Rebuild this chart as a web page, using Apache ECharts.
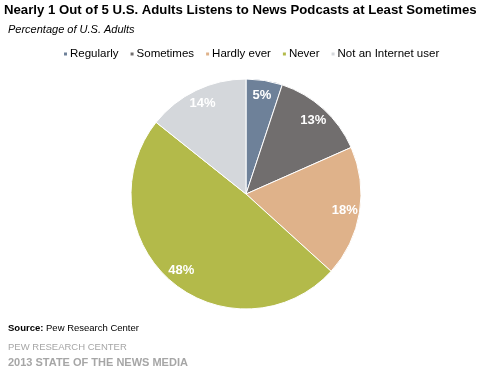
<!DOCTYPE html>
<html><head><meta charset="utf-8">
<script src="https://cdn.jsdelivr.net/npm/echarts@6/dist/echarts.min.js"></script>
<style>html,body{margin:0;padding:0;background:#fff}#c{width:481px;height:369px}</style>
</head><body><div id="c"></div>
<script>
var categories = ['Regularly', 'Sometimes', 'Hardly ever', 'Never', 'Not an Internet user'];
var values = [5, 13, 18, 48, 14];
var colors = ['#6E8199', '#716E6E', '#DFB28A', '#B3BA4A', '#D4D7DB'];

var data = categories.map(function (c, i) { return { name: c, value: values[i], itemStyle: { color: colors[i] } }; });
var labelData = categories.map(function (c, i) { return { name: c, value: values[i] }; });
var F = 'Liberation Sans, Arial, sans-serif';
var chart = echarts.init(document.getElementById('c'));
chart.setOption({
  animation: false,
  title: [
    { text: 'Nearly 1 Out of 5 U.S. Adults Listens to News Podcasts at Least Sometimes', left: -1, top: -1,
      textStyle: { fontFamily: F, fontSize: 13.2, fontWeight: 'bold', color: '#000' } },
    { text: 'Percentage of U.S. Adults', left: 3, top: 19,
      textStyle: { fontFamily: F, fontSize: 11, fontStyle: 'italic', fontWeight: 'normal', color: '#000' } },
    { text: '{b|Source:} Pew Research Center', left: 3, top: 318,
      textStyle: { fontFamily: F, fontSize: 9.5, fontWeight: 'normal', color: '#000', rich: { b: { fontFamily: F, fontSize: 9.5, fontWeight: 'bold', color: '#000' } } } },
    { text: 'PEW RESEARCH CENTER', left: 3, top: 337,
      textStyle: { fontFamily: F, fontSize: 9.5, fontWeight: 'normal', color: '#A6A6A6' } },
    { text: '2013 STATE OF THE NEWS MEDIA', left: 3, top: 352,
      textStyle: { fontFamily: F, fontSize: 11, fontWeight: 'bold', color: '#A6A6A6' } }
  ],
  legend: {
    data: categories, top: 43, left: 57, itemWidth: 5, itemHeight: 5, itemGap: 10, icon: 'rect',
    textStyle: { fontFamily: F, fontSize: 11.5, color: '#000', padding: [0, 0, 0, -3] }
  },
  series: [
    {
      type: 'pie', center: [246, 194], radius: [0, 115], startAngle: 90, clockwise: true,
      data: data, label: { show: false }, labelLine: { show: false },
      itemStyle: { borderColor: '#fff', borderWidth: 1 }, silent: true
    },
    {
      type: 'pie', center: [246, 194], radius: [0, 194], startAngle: 90, clockwise: true,
      data: labelData, silent: true, labelLine: { show: false },
      itemStyle: { color: 'rgba(0,0,0,0)' }, emphasis: { disabled: true },
      label: { show: true, position: 'inside', formatter: '{c}%', fontFamily: F, fontSize: 13, fontWeight: 'bold', color: '#fff' }
    }
  ]
});
</script></body></html>
